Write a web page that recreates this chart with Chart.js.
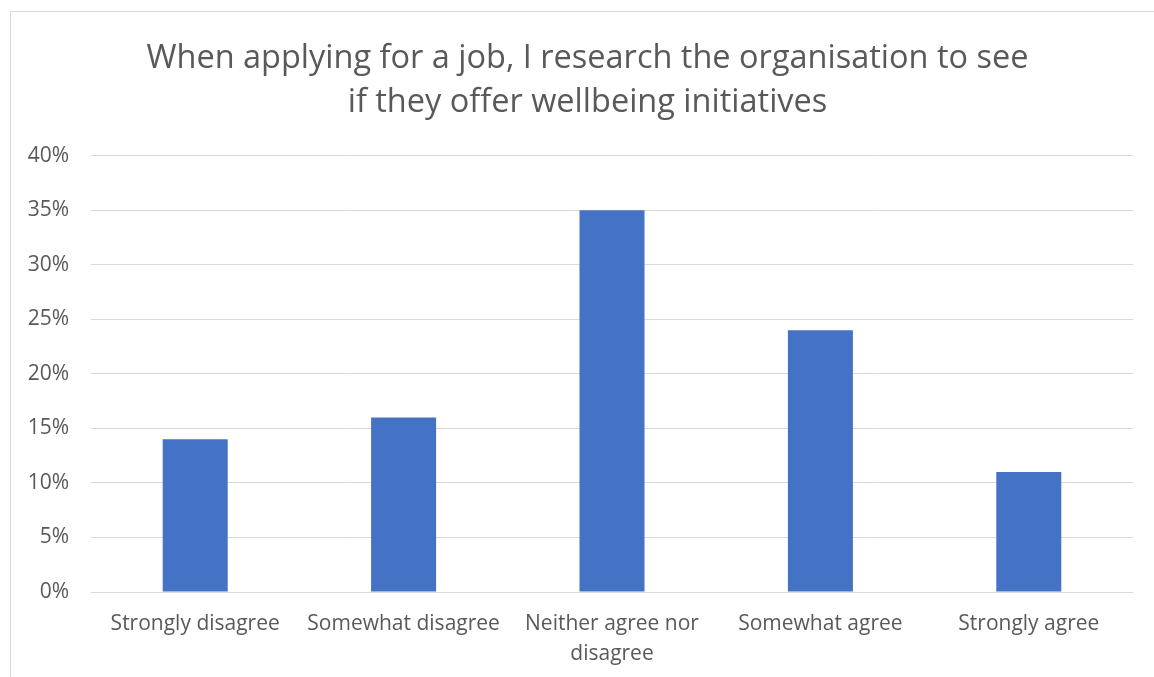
<!DOCTYPE html>
<html>
<head>
<meta charset="utf-8">
<script src="https://cdn.jsdelivr.net/npm/chart.js@4/dist/chart.umd.min.js"></script>
<style>
    html, body {
        margin: 0;
        padding: 0;
        background: #ffffff;
        overflow: hidden;
    }

    #frame {
        position: absolute;
        left: 10px;
        top: 11px;
        width: 1143px;
        height: 665px;
        border-left: 1px solid #d9d9d9;
        border-top: 1px solid #d9d9d9;
        background: #ffffff;
    }
</style>
</head>
<body>
<div id="frame">
    <canvas id="surveyChart" width="1143" height="665"></canvas>
</div>

<script>
const titleLines = [
    "When applying for a job, I research the organisation to see",
    "if they offer wellbeing initiatives"
];

const categories = [
    "Strongly disagree",
    "Somewhat disagree",
    ["Neither agree nor", "disagree"],
    "Somewhat agree",
    "Strongly agree"
];

const shares = [14, 16, 35, 24, 11];

const yMax = 40;
const yStep = 5;

const textColor = "#595959";
const gridColor = "#d9d9d9";
const barColor = "#4472c4";

const ctx = document.getElementById("surveyChart");

new Chart(ctx, {

    type: "bar",

    data: {
        labels: categories,
        datasets: [{
            label: "Share of respondents",
            data: shares,
            backgroundColor: barColor,
            borderWidth: 0,
            categoryPercentage: 1,
            barPercentage: 0.312
        }]
    },

    options: {
        responsive: false,
        devicePixelRatio: 1,
        animation: false,

        layout: {
            padding: { left: 10, right: 0, top: 0, bottom: 0 }
        },

        plugins: {
            legend: { display: false },
            tooltip: { enabled: false },
            title: {
                display: true,
                text: titleLines,
                color: textColor,
                font: { family: "'Open Sans'", size: 32.5, weight: "normal", lineHeight: 1.34 },
                padding: { top: 25, bottom: 31.5 }
            }
        },

        scales: {
            x: {
                grid: { display: false },
                border: { display: false },
                ticks: {
                    color: textColor,
                    font: { family: "'Open Sans'", size: 21, lineHeight: 1.43 },
                    padding: 9,
                    maxRotation: 0,
                    autoSkip: false
                },
                afterFit: (scale) => { scale.height = 85; }
            },
            y: {
                min: 0,
                max: yMax,
                grid: {
                    color: gridColor,
                    lineWidth: 1,
                    drawTicks: false
                },
                border: { display: false },
                ticks: {
                    stepSize: yStep,
                    color: textColor,
                    font: { family: "'Open Sans'", size: 21 },
                    padding: 22,
                    callback: (v) => v + "%"
                },
                afterFit: (scale) => { scale.width = 70; }
            },
            // empty right-hand axis: keeps a margin right of the plot
            // while the title stays centred on the whole canvas
            yRight: {
                position: "right",
                min: 0,
                max: yMax,
                grid: { display: false },
                border: { display: false },
                ticks: { display: false },
                afterFit: (scale) => { scale.width = 21; }
            }
        }
    }
});
</script>
</body>
</html>
